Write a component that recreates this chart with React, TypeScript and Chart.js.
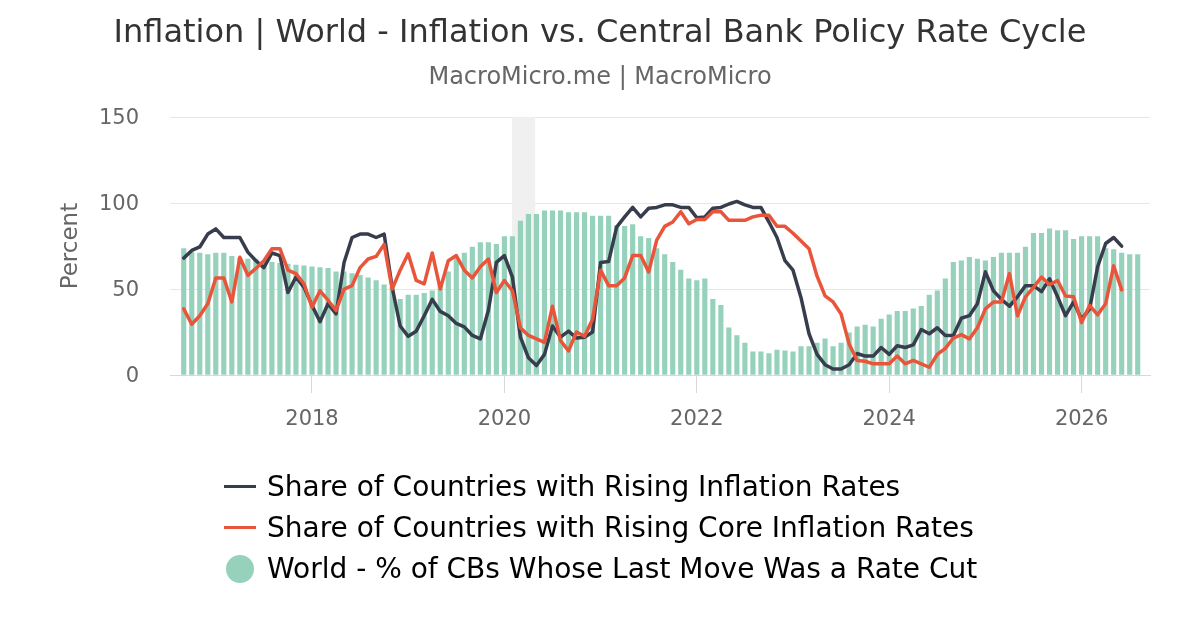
import React, { useEffect, useRef } from "react";
import { Chart, registerables } from "chart.js";

Chart.register(...registerables);

// ---------- data ----------
const months: string[] = [
  "2016-09", "2016-10", "2016-11", "2016-12",
  "2017-01", "2017-02", "2017-03", "2017-04", "2017-05", "2017-06", "2017-07", "2017-08", "2017-09", "2017-10", "2017-11", "2017-12",
  "2018-01", "2018-02", "2018-03", "2018-04", "2018-05", "2018-06", "2018-07", "2018-08", "2018-09", "2018-10", "2018-11", "2018-12",
  "2019-01", "2019-02", "2019-03", "2019-04", "2019-05", "2019-06", "2019-07", "2019-08", "2019-09", "2019-10", "2019-11", "2019-12",
  "2020-01", "2020-02", "2020-03", "2020-04", "2020-05", "2020-06", "2020-07", "2020-08", "2020-09", "2020-10", "2020-11", "2020-12",
  "2021-01", "2021-02", "2021-03", "2021-04", "2021-05", "2021-06", "2021-07", "2021-08", "2021-09", "2021-10", "2021-11", "2021-12",
  "2022-01", "2022-02", "2022-03", "2022-04", "2022-05", "2022-06", "2022-07", "2022-08", "2022-09", "2022-10", "2022-11", "2022-12",
  "2023-01", "2023-02", "2023-03", "2023-04", "2023-05", "2023-06", "2023-07", "2023-08", "2023-09", "2023-10", "2023-11", "2023-12",
  "2024-01", "2024-02", "2024-03", "2024-04", "2024-05", "2024-06", "2024-07", "2024-08", "2024-09", "2024-10", "2024-11", "2024-12",
  "2025-01", "2025-02", "2025-03", "2025-04", "2025-05", "2025-06", "2025-07", "2025-08", "2025-09", "2025-10", "2025-11", "2025-12",
  "2026-01", "2026-02", "2026-03", "2026-04", "2026-05", "2026-06", "2026-07", "2026-08",
];

// World - % of CBs Whose Last Move Was a Rate Cut (Sep 2016 - Aug 2026)
const rateCutShare: number[] = [
  73.5, 71.5, 71, 70, 71, 71, 69, 68, 67.5, 67.5,
  66, 65.5, 65, 64.5, 64, 63.5, 63, 62.5, 62, 60,
  60, 59, 58, 56.5, 55, 52.5, 51, 44, 46.5, 46.5,
  47.5, 49, 54, 60, 67.5, 71, 74.5, 77, 77, 76,
  80.5, 80.5, 89.5, 93.5, 93.5, 95.5, 95.5, 95.5, 94.5, 94.5,
  94.5, 92.5, 92.5, 92.5, 87, 86.5, 87.5, 80.5, 79.5, 73.5,
  70, 65.5, 61, 56, 55, 56, 44, 40.5, 27.5, 23,
  18.5, 13.5, 13.5, 12.5, 14.5, 14, 13.5, 16.5, 16.5, 18.5,
  21, 16.5, 18.5, 24.5, 28, 29, 28, 32.5, 35, 37,
  37, 38.5, 40, 46.5, 49, 56, 65.5, 66.5, 68.5, 67.5,
  66.5, 68.5, 71, 71, 71, 74.5, 82.5, 82.5, 85, 84,
  84, 79, 80.5, 80.5, 80.5, 73.5, 73, 71, 70, 70,
];

// Share of Countries with Rising Inflation Rates (Sep 2016 - Jun 2026)
const risingInflation: number[] = [
  68, 72.5, 74.5, 82, 85, 80, 80, 80, 71.5, 66.5,
  62.5, 71, 69.5, 48, 57, 51, 40.5, 31, 41.5, 35.5,
  65.5, 80, 82, 82, 80, 82, 51, 28.5, 22.5, 25.5,
  34.5, 44, 37, 34.5, 30, 28, 23, 21, 37.5, 65.5,
  69.5, 57, 22, 10, 5.5, 12, 28.5, 22, 25.5, 21.5,
  22, 25, 65.5, 66, 86, 92, 97.5, 92, 97, 97.5,
  99, 99, 97.5, 97.5, 91.5, 92, 97, 97.5, 99.5, 101,
  99, 97.5, 97.5, 89, 80, 66.5, 61, 45, 24, 12,
  6, 3.5, 3.5, 6, 12.5, 11, 11, 16, 12, 17,
  16, 17.5, 26.5, 24, 27.5, 23, 23, 33, 34.5, 41.5,
  60, 49, 44, 40, 45.5, 52, 52, 48.5, 56, 45.5,
  34.5, 42.5, 32.5, 38.5, 63, 76.5, 80, 75,
];

// Share of Countries with Rising Core Inflation Rates (Sep 2016 - Jun 2026)
const risingCore: number[] = [
  38.5, 29.5, 34.5, 41.5, 56.5, 56.5, 42.5, 68.5, 58, 62,
  66.5, 73.5, 73.5, 61, 59, 53, 39.5, 49, 43.5, 37.5,
  50, 52, 62.5, 67.5, 69, 76, 50, 61, 70.5, 55,
  53, 71, 50, 66.5, 69.5, 61, 56.5, 63, 67.5, 48,
  55, 49, 27.5, 23, 21, 19, 40, 20, 14, 25,
  22.5, 32.5, 61, 52, 52, 56.5, 69.5, 69.5, 60, 78.5,
  86.5, 89, 95, 88, 90.5, 90.5, 95, 95, 90, 90,
  90, 92, 93, 93, 86.5, 86.5, 82.5, 78, 73.5, 57.5,
  46, 42.5, 35.5, 18, 8.5, 8, 6.5, 6.5, 6.5, 11,
  6.5, 8.5, 6.5, 4.5, 12, 15.5, 21.5, 23.5, 21, 27.5,
  38.5, 42.5, 42.5, 59, 34.5, 45.5, 51, 57, 52.5, 55,
  46, 45.5, 30.5, 40.5, 35, 41.5, 63.5, 49.5,
];

const xTickYears: number[] = [2018, 2020, 2022, 2024, 2026];
const yTickValues: number[] = [0, 50, 100, 150];
const shadedPeriod: number[] = [2020.08, 2020.32]; // Feb 2020 - Apr 2020

const TITLE = "Inflation | World - Inflation vs. Central Bank Policy Rate Cycle";
const SUBTITLE = "MacroMicro.me | MacroMicro";
const LABEL_INFL = "Share of Countries with Rising Inflation Rates";
const LABEL_CORE = "Share of Countries with Rising Core Inflation Rates";
const LABEL_CUT = "World - % of CBs Whose Last Move Was a Rate Cut";

const COLOR_INFL = "#383d4d";
const COLOR_CORE = "#e9553a";
const COLOR_CUT = "#96d2bb";
const FONT = "'DejaVu Sans', sans-serif";

function monthToYear(m: string): number {
  const [y, mo] = m.split("-").map(Number);
  return y + (mo - 1) / 12;
}

function toPoints(values: number[]) {
  return values.map((v, i) => ({ x: monthToYear(months[i]), y: v }));
}

const bandPlugin = {
  id: "shadedBand",
  beforeDatasetsDraw(chart: any) {
    const { ctx, chartArea, scales } = chart;
    const x0 = scales.x.getPixelForValue(shadedPeriod[0]);
    const x1 = scales.x.getPixelForValue(shadedPeriod[1]);
    ctx.save();
    ctx.fillStyle = "#f0f0f0";
    ctx.fillRect(x0, chartArea.top, x1 - x0, chartArea.bottom - chartArea.top);
    ctx.restore();
  },
};

export default function App() {
  const canvasRef = useRef<HTMLCanvasElement | null>(null);

  useEffect(() => {
    const canvas = canvasRef.current;
    if (!canvas) return;
    const chart = new Chart(canvas, {
      type: "line",
      data: {
        datasets: [
          {
            type: "line",
            label: LABEL_INFL,
            data: toPoints(risingInflation),
            borderColor: COLOR_INFL,
            backgroundColor: COLOR_INFL,
            borderWidth: 3.5,
            pointRadius: 0,
            tension: 0,
            borderJoinStyle: "round",
            borderCapStyle: "round",
            order: 1,
          },
          {
            type: "line",
            label: LABEL_CORE,
            data: toPoints(risingCore),
            borderColor: COLOR_CORE,
            backgroundColor: COLOR_CORE,
            borderWidth: 3.5,
            pointRadius: 0,
            tension: 0,
            borderJoinStyle: "round",
            borderCapStyle: "round",
            order: 0,
          },
          {
            type: "bar",
            label: LABEL_CUT,
            data: toPoints(rateCutShare),
            backgroundColor: COLOR_CUT,
            borderWidth: 0,
            barThickness: 4.5,
            order: 2,
          },
        ] as any,
      },
      options: {
        responsive: false,
        animation: false,
        events: [],
        layout: { padding: { left: 0, right: 0, top: 0, bottom: 200 } },
        plugins: {
          legend: { display: false },
          tooltip: { enabled: false },
          title: {
            display: true,
            text: TITLE,
            color: "#333333",
            font: { family: FONT, size: 32, weight: "normal" },
            padding: { top: 14, bottom: 0 },
          },
          subtitle: {
            display: true,
            text: SUBTITLE,
            color: "#666666",
            font: { family: FONT, size: 24, weight: "normal" },
            padding: { top: 11, bottom: 25 },
          },
        },
        scales: {
          x: {
            type: "linear",
            min: 2016.524,
            max: 2026.711,
            offset: false,
            afterBuildTicks: (s: any) => {
              s.ticks = xTickYears.map((v) => ({ value: v }));
            },
            afterFit: (s: any) => {
              s.height = 55;
            },
            ticks: {
              callback: (v: any) => String(v),
              color: "#666666",
              font: { family: FONT, size: 21 },
              padding: 14,
              maxRotation: 0,
              autoSkip: false,
            },
            grid: {
              drawOnChartArea: false,
              drawTicks: true,
              tickLength: 18,
              color: "#d8d8d8",
              offset: false,
            },
            border: { display: true, color: "#d8d8d8" },
          },
          y: {
            min: 0,
            max: 150,
            afterBuildTicks: (s: any) => {
              s.ticks = yTickValues.map((v) => ({ value: v }));
            },
            afterFit: (s: any) => {
              s.width = 170;
            },
            ticks: {
              color: "#666666",
              font: { family: FONT, size: 21 },
              padding: 31,
              labelOffset: 1.5,
            },
            grid: { color: "#e6e6e6", drawTicks: false },
            border: { display: false },
            title: {
              display: true,
              text: "Percent",
              color: "#666666",
              font: { family: FONT, size: 23 },
              padding: { top: 57, bottom: 0 },
            },
          },
          yRight: {
            position: "right",
            display: true,
            min: 0,
            max: 150,
            afterFit: (s: any) => {
              s.width = 50;
            },
            ticks: { display: false },
            grid: { display: false, drawTicks: false },
            border: { display: false },
          },
        },
      } as any,
      plugins: [bandPlugin],
    });
    return () => chart.destroy();
  }, []);

  const legendItems = [
    { label: LABEL_INFL, color: COLOR_INFL, kind: "line" },
    { label: LABEL_CORE, color: COLOR_CORE, kind: "line" },
    { label: LABEL_CUT, color: COLOR_CUT, kind: "circle" },
  ];

  return (
    <div
      style={{
        position: "fixed",
        left: 0,
        top: 0,
        width: 1200,
        height: 630,
        background: "#ffffff",
        overflow: "hidden",
      }}
    >
      <canvas
        ref={canvasRef}
        width={1200}
        height={630}
        style={{ width: 1200, height: 630, display: "block" }}
      />
      <div
        style={{
          position: "absolute",
          left: 224,
          top: 466,
          fontFamily: FONT,
          fontSize: 28,
          color: "#000000",
        }}
      >
        {legendItems.map((it) => (
          <div
            key={it.label}
            style={{ display: "flex", alignItems: "center", height: 41 }}
          >
            <div
              style={{
                width: 32,
                height: 32,
                display: "flex",
                alignItems: "center",
                justifyContent: "center",
              }}
            >
              {it.kind === "line" ? (
                <div style={{ width: 32, height: 3, background: it.color }} />
              ) : (
                <div
                  style={{
                    width: 28,
                    height: 28,
                    borderRadius: "50%",
                    background: it.color,
                  }}
                />
              )}
            </div>
            <span style={{ marginLeft: 11, whiteSpace: "nowrap", lineHeight: "41px" }}>
              {it.label}
            </span>
          </div>
        ))}
      </div>
    </div>
  );
}
